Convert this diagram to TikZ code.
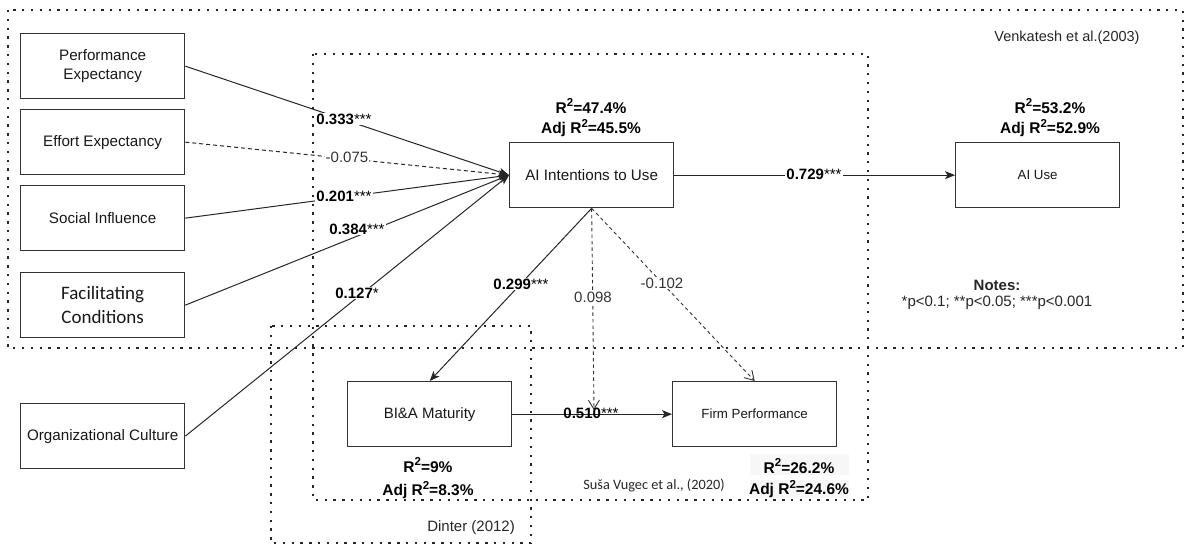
\documentclass[tikz,border=0pt]{standalone}
\usepackage{fontspec}
\setmainfont{Liberation Sans}
\newfontfamily\calfont{Carlito}
\usetikzlibrary{arrows.meta}
\newcommand{\Rs}{R\raisebox{0.42em}{\fontsize{11.5}{11.5}\selectfont 2}}
\tikzset{
 box/.style={draw=black!80, line width=1.3pt, fill=white, minimum width=164pt, minimum height=65pt, inner sep=0pt, align=center, text=black!90, font=\fontsize{15.2}{19.5}\selectfont, anchor=north west},
 smallbox/.style={box, font=\fontsize{13.3}{16}\selectfont},
 region/.style={line width=2.3pt, dash pattern=on 2.3pt off 6.5pt, black!85},
 conn/.style={line width=1pt, black!85, -{Stealth[length=10pt,width=8pt,inset=2.5pt]}},
 dconn/.style={line width=0.9pt, black!80, dash pattern=on 3.5pt off 3pt, -{Straight Barb[length=9pt,width=11pt]}},
 coef/.style={fill=white, inner sep=1pt, font=\fontsize{15}{18}\selectfont},
 coefg/.style={coef, text=black!80},
 rsq/.style={font=\bfseries\fontsize{15.5}{18}\selectfont, inner sep=0pt},
 note/.style={font=\fontsize{14.5}{18}\selectfont, text=black!85, inner sep=0pt},
}
\begin{document}
\begin{tikzpicture}[x=1pt,y=-1pt]
\useasboundingbox (0,0) rectangle (1190,544);
% regions
\draw[region] (8,10) rectangle (1183,348);
\draw[region] (313,54) rectangle (868,500);
\draw[region] (271,326) rectangle (531,543);

% boxes
\node[box] (pe) at (20,33) {Performance\\Expectancy};
\node[box] (ee) at (20,109) {Effort Expectancy};
\node[box] (si) at (20,185) {Social Influence};
\node[box, font=\calfont\fontsize{19}{24}\selectfont] (fc) at (20,272) {Facilitating\\Conditions};
\node[box] (oc) at (20,403) {Organizational Culture};
\node[box] (ai) at (509,142) {AI Intentions to Use};
\node[smallbox] (use) at (955,142) {AI Use};
\node[box, font=\fontsize{15}{18}\selectfont] (bia) at (347,381) {BI\&A Maturity};
\node[smallbox] (firm) at (672,381) {Firm Performance};

\coordinate (mod) at (594,410);

% connectors
\draw[conn] (pe.east) -- (ai.west);
\draw[conn, dash pattern=on 4pt off 3pt] (ee.east) -- (ai.west);
\draw[conn] (si.east) -- (ai.west);
\draw[conn] (fc.east) -- (ai.west);
\draw[conn] (oc.east) -- (ai.west);
\draw[conn] (ai.east) -- (use.west);
\draw[conn] (bia.east) -- (firm.west);
\draw[conn] (ai.south) -- (bia.north);
\draw[dconn] (ai.south) -- (mod);
\draw[dconn] (ai.south) -- (firm.north);

% coefficients
\node[coef] (c1) at (344,119) {\textbf{0.333}***};
\node[coefg] (c2) at (347,157) {-0.075};
\node[coef] (c3) at (344,196) {\textbf{0.201}***};
\node[coef] (c4) at (357,229) {\textbf{0.384}***};
\node[coef] (c5) at (357,293) {\textbf{0.127}*};
\node[coef] (c6) at (814,174) {\textbf{0.729}***};
\node[coef] (c7) at (521,284) {\textbf{0.299}***};
\node[coefg] (c8) at (593,297) {0.098};
\node[coefg] (c9) at (662,283) {-0.102};
\node[coef, fill=none] (c10) at (591,413) {\textbf{0.510}***};

% R squared
\node[rsq] (r1a) at (591,106) {\Rs=47.4\%};
\node[rsq] (r1b) at (591,128) {Adj \Rs=45.5\%};
\node[rsq] (r2a) at (1050,106) {\Rs=53.2\%};
\node[rsq] (r2b) at (1050,128) {Adj \Rs=52.9\%};
\node[rsq] (r3a) at (428,465) {\Rs=9\%};
\node[rsq] (r3b) at (428,490) {Adj \Rs=8.3\%};
\node[fill=black!3, minimum width=99pt, minimum height=21pt, inner sep=0pt] (g1) at (799,464.5) {};
\node[fill=black!3, minimum width=99pt, minimum height=18pt, inner sep=0pt] (g2) at (799,488.5) {};
\node[rsq] (r4a) at (799,466) {\Rs=26.2\%};
\node[rsq] (r4b) at (799,489) {Adj \Rs=24.6\%};

% notes and sources
\node[note] (ven) at (1067,38) {Venkatesh et al.(2003)};
\node[note, font=\bfseries\fontsize{15}{18}\selectfont] (nt) at (997,285) {Notes:};
\node[note, font=\fontsize{15}{18}\selectfont] (nt2) at (997,303) {*p<0.1; **p<0.05; ***p<0.001};
\node[note, font=\calfont\fontsize{14.3}{18}\selectfont] (susa) at (654,485) {Suša Vugec et al., (2020)};
\node[note, anchor=east, font=\fontsize{15}{18}\selectfont] (din) at (515,528) {Dinter (2012)};
\end{tikzpicture}
\end{document}
